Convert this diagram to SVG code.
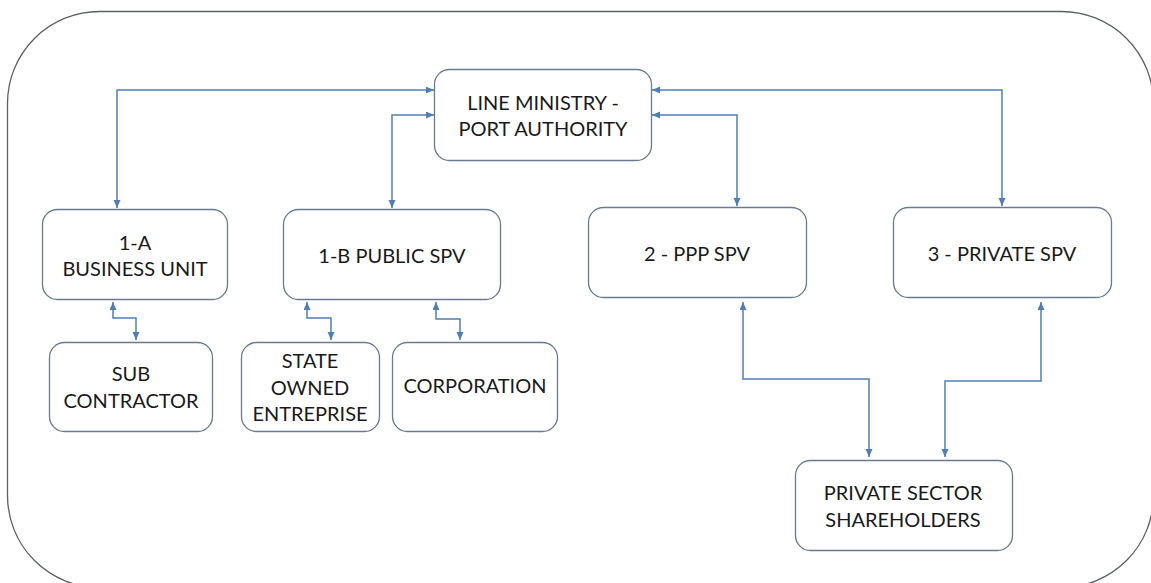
<svg xmlns="http://www.w3.org/2000/svg" width="1151" height="583" viewBox="0 0 1151 583">
<defs>
<style>
.frame{fill:none;stroke:#5b5f66;stroke-width:1.3}
.node rect{fill:#ffffff;stroke:#6b7a8f;stroke-width:1.3}
.node text{font-family:Lato,"Liberation Sans",sans-serif;font-size:20px;fill:#1a1a1a;text-anchor:middle;dominant-baseline:central}
.conn path{fill:none;stroke:#4f7fb8;stroke-width:1.5;marker-start:url(#ah);marker-end:url(#ah)}
</style>
<marker id="ah" markerUnits="userSpaceOnUse" markerWidth="9" markerHeight="8" refX="8" refY="3.5" orient="auto-start-reverse">
<path d="M0,0 L8,3.5 L0,7 z" fill="#4f7fb8"/>
</marker>
</defs>
<rect x="0" y="0" width="1151" height="583" fill="#ffffff"/>
<rect class="frame" x="7.5" y="11.5" width="1146" height="576" rx="92" ry="92"/>

<g id="connectors" class="conn">
<path d="M434 90 H117 V208"/>
<path d="M434 115 H392 V208"/>
<path d="M652 90 H1002 V206"/>
<path d="M652 115 H737 V206"/>
<path d="M113 302 V318 H136 V340"/>
<path d="M307 302 V318 H331 V340"/>
<path d="M436 302 V319 H460 V340"/>
<path d="M743 302 V379 H869 V457"/>
<path d="M1041 302 V381 H945 V457"/>
</g>

<g id="line-ministry" class="node">
<rect x="434.5" y="69.5" width="217" height="91" rx="15"/>
<text x="543" y="102">LINE MINISTRY -</text>
<text x="543" y="128">PORT AUTHORITY</text>
</g>
<g id="business-unit" class="node">
<rect x="42.5" y="209.5" width="185" height="90" rx="15"/>
<text x="135" y="242">1-A</text>
<text x="135" y="268">BUSINESS UNIT</text>
</g>
<g id="public-spv" class="node">
<rect x="283.5" y="209.5" width="217" height="90" rx="15"/>
<text x="392" y="255">1-B PUBLIC SPV</text>
</g>
<g id="ppp-spv" class="node">
<rect x="588.5" y="207.5" width="218" height="90" rx="15"/>
<text x="697" y="253">2 - PPP SPV</text>
</g>
<g id="private-spv" class="node">
<rect x="893.5" y="207.5" width="218" height="90" rx="15"/>
<text x="1002" y="253">3 - PRIVATE SPV</text>
</g>
<g id="sub-contractor" class="node">
<rect x="49.5" y="342.5" width="163" height="89" rx="15"/>
<text x="131" y="373">SUB</text>
<text x="131" y="400">CONTRACTOR</text>
</g>
<g id="state-owned" class="node">
<rect x="241.5" y="342.5" width="138" height="89" rx="15"/>
<text x="310" y="360">STATE</text>
<text x="310" y="387">OWNED</text>
<text x="310" y="413">ENTREPRISE</text>
</g>
<g id="corporation" class="node">
<rect x="392.5" y="342.5" width="165" height="89" rx="15"/>
<text x="475" y="385">CORPORATION</text>
</g>
<g id="shareholders" class="node">
<rect x="795.5" y="460.5" width="217" height="90" rx="15"/>
<text x="903" y="492">PRIVATE SECTOR</text>
<text x="903" y="519">SHAREHOLDERS</text>
</g>
</svg>
